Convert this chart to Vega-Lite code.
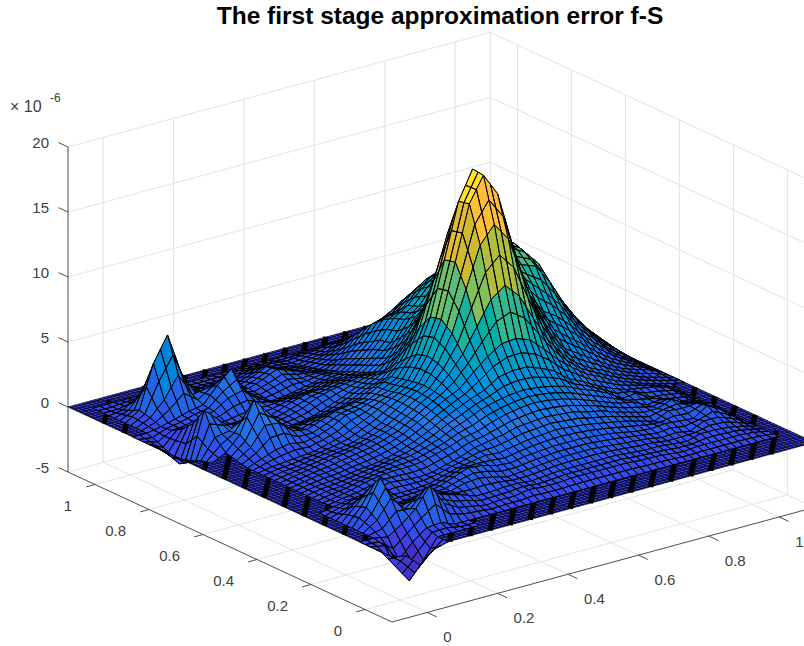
{"$schema":"https://vega.github.io/schema/vega-lite/v6.json","width":804,"height":646,"padding":0,"autosize":"none","background":"white","config":{"view":{"stroke":null}},
"title":{"text":"The first stage approximation error f-S","anchor":"middle","dx":38,"offset":-29,"font":"Liberation Sans","fontSize":24.5,"fontWeight":"bold","color":"#000000"},
"datasets":{
"walls":[
{"u1":-0.1,"v1":1.1,"z1":-5,"u2":1.1,"v2":1.1,"z2":-5},{"u1":-0.1,"v1":1.1,"z1":0,"u2":1.1,"v2":1.1,"z2":0},{"u1":-0.1,"v1":1.1,"z1":5,"u2":1.1,"v2":1.1,"z2":5},{"u1":-0.1,"v1":1.1,"z1":10,"u2":1.1,"v2":1.1,"z2":10},{"u1":-0.1,"v1":1.1,"z1":15,"u2":1.1,"v2":1.1,"z2":15},{"u1":-0.1,"v1":1.1,"z1":20,"u2":1.1,"v2":1.1,"z2":20},
{"u1":1.1,"v1":-0.1,"z1":-5,"u2":1.1,"v2":1.1,"z2":-5},{"u1":1.1,"v1":-0.1,"z1":0,"u2":1.1,"v2":1.1,"z2":0},{"u1":1.1,"v1":-0.1,"z1":5,"u2":1.1,"v2":1.1,"z2":5},{"u1":1.1,"v1":-0.1,"z1":10,"u2":1.1,"v2":1.1,"z2":10},{"u1":1.1,"v1":-0.1,"z1":15,"u2":1.1,"v2":1.1,"z2":15},{"u1":1.1,"v1":-0.1,"z1":20,"u2":1.1,"v2":1.1,"z2":20},
{"u1":0,"v1":1.1,"z1":-5,"u2":0,"v2":1.1,"z2":20},{"u1":0.2,"v1":1.1,"z1":-5,"u2":0.2,"v2":1.1,"z2":20},{"u1":0.4,"v1":1.1,"z1":-5,"u2":0.4,"v2":1.1,"z2":20},{"u1":0.6,"v1":1.1,"z1":-5,"u2":0.6,"v2":1.1,"z2":20},{"u1":0.8,"v1":1.1,"z1":-5,"u2":0.8,"v2":1.1,"z2":20},{"u1":1,"v1":1.1,"z1":-5,"u2":1,"v2":1.1,"z2":20},{"u1":1.1,"v1":1.1,"z1":-5,"u2":1.1,"v2":1.1,"z2":20},
{"u1":1.1,"v1":0,"z1":-5,"u2":1.1,"v2":0,"z2":20},{"u1":1.1,"v1":0.2,"z1":-5,"u2":1.1,"v2":0.2,"z2":20},{"u1":1.1,"v1":0.4,"z1":-5,"u2":1.1,"v2":0.4,"z2":20},{"u1":1.1,"v1":0.6,"z1":-5,"u2":1.1,"v2":0.6,"z2":20},{"u1":1.1,"v1":0.8,"z1":-5,"u2":1.1,"v2":0.8,"z2":20},{"u1":1.1,"v1":1,"z1":-5,"u2":1.1,"v2":1,"z2":20},
{"u1":0,"v1":-0.1,"z1":-5,"u2":0,"v2":1.1,"z2":-5},{"u1":0.2,"v1":-0.1,"z1":-5,"u2":0.2,"v2":1.1,"z2":-5},{"u1":0.4,"v1":-0.1,"z1":-5,"u2":0.4,"v2":1.1,"z2":-5},{"u1":0.6,"v1":-0.1,"z1":-5,"u2":0.6,"v2":1.1,"z2":-5},{"u1":0.8,"v1":-0.1,"z1":-5,"u2":0.8,"v2":1.1,"z2":-5},{"u1":1,"v1":-0.1,"z1":-5,"u2":1,"v2":1.1,"z2":-5},
{"u1":-0.1,"v1":0,"z1":-5,"u2":1.1,"v2":0,"z2":-5},{"u1":-0.1,"v1":0.2,"z1":-5,"u2":1.1,"v2":0.2,"z2":-5},{"u1":-0.1,"v1":0.4,"z1":-5,"u2":1.1,"v2":0.4,"z2":-5},{"u1":-0.1,"v1":0.6,"z1":-5,"u2":1.1,"v2":0.6,"z2":-5},{"u1":-0.1,"v1":0.8,"z1":-5,"u2":1.1,"v2":0.8,"z2":-5},{"u1":-0.1,"v1":1,"z1":-5,"u2":1.1,"v2":1,"z2":-5}],
"axes":[
{"u1":-0.1,"v1":1.1,"z1":-5,"u2":-0.1,"v2":1.1,"z2":20},{"u1":-0.1,"v1":-0.1,"z1":-5,"u2":-0.1,"v2":1.1,"z2":-5},{"u1":-0.1,"v1":-0.1,"z1":-5,"u2":1.1,"v2":-0.1,"z2":-5},
{"u1":-0.1,"v1":1.1,"z1":-5,"u2":-0.1,"v2":1.135,"z2":-5},{"u1":-0.1,"v1":1.1,"z1":0,"u2":-0.1,"v2":1.135,"z2":0},{"u1":-0.1,"v1":1.1,"z1":5,"u2":-0.1,"v2":1.135,"z2":5},{"u1":-0.1,"v1":1.1,"z1":10,"u2":-0.1,"v2":1.135,"z2":10},{"u1":-0.1,"v1":1.1,"z1":15,"u2":-0.1,"v2":1.135,"z2":15},{"u1":-0.1,"v1":1.1,"z1":20,"u2":-0.1,"v2":1.135,"z2":20},
{"u1":-0.1,"v1":0,"z1":-5,"u2":-0.125,"v2":0,"z2":-5},{"u1":-0.1,"v1":0.2,"z1":-5,"u2":-0.125,"v2":0.2,"z2":-5},{"u1":-0.1,"v1":0.4,"z1":-5,"u2":-0.125,"v2":0.4,"z2":-5},{"u1":-0.1,"v1":0.6,"z1":-5,"u2":-0.125,"v2":0.6,"z2":-5},{"u1":-0.1,"v1":0.8,"z1":-5,"u2":-0.125,"v2":0.8,"z2":-5},{"u1":-0.1,"v1":1,"z1":-5,"u2":-0.125,"v2":1,"z2":-5},
{"u1":0,"v1":-0.1,"z1":-5,"u2":0,"v2":-0.135,"z2":-5},{"u1":0.2,"v1":-0.1,"z1":-5,"u2":0.2,"v2":-0.135,"z2":-5},{"u1":0.4,"v1":-0.1,"z1":-5,"u2":0.4,"v2":-0.135,"z2":-5},{"u1":0.6,"v1":-0.1,"z1":-5,"u2":0.6,"v2":-0.135,"z2":-5},{"u1":0.8,"v1":-0.1,"z1":-5,"u2":0.8,"v2":-0.135,"z2":-5},{"u1":1,"v1":-0.1,"z1":-5,"u2":1,"v2":-0.135,"z2":-5}],
"zlabels":[{"z":20,"t":"20"},{"z":15,"t":"15"},{"z":10,"t":"10"},{"z":5,"t":"5"},{"z":0,"t":"0"},{"z":-5,"t":"-5"}],
"vlabels":[{"v":1,"t":"1"},{"v":0.8,"t":"0.8"},{"v":0.6,"t":"0.6"},{"v":0.4,"t":"0.4"},{"v":0.2,"t":"0.2"},{"v":0,"t":"0"}],
"ulabels":[{"u":0,"t":"0"},{"u":0.2,"t":"0.2"},{"u":0.4,"t":"0.4"},{"u":0.6,"t":"0.6"},{"u":0.8,"t":"0.8"},{"u":1,"t":"1"}],
"plane":[{"u":-0.1,"v":-0.1,"n":0},{"u":1.1,"v":-0.1,"n":1},{"u":1.1,"v":1.1,"n":2},{"u":-0.1,"v":1.1,"n":3},{"u":-0.1,"v":-0.1,"n":4}],
"mesh":[{"d":-0.096},{"d":-0.084},{"d":-0.072},{"d":-0.06},{"d":-0.048},{"d":-0.036},{"d":-0.024},{"d":-0.012},{"d":0},{"d":0.012},{"d":0.024},{"d":0.036},{"d":0.048},{"d":0.06},{"d":0.072},{"d":0.084},{"d":0.096},{"d":0.108},{"d":0.12},{"d":0.132},{"d":0.144},{"d":0.156},{"d":0.168},{"d":0.18},{"d":0.192},{"d":0.204},{"d":0.216},{"d":0.228},{"d":0.24},{"d":0.252},{"d":0.264},{"d":0.276},{"d":0.288},{"d":0.3},{"d":0.312},{"d":0.324},{"d":0.336},{"d":0.348},{"d":0.36},{"d":0.372},{"d":0.384},{"d":0.396},{"d":0.408},{"d":0.42},{"d":0.432},{"d":0.444},{"d":0.456},{"d":0.468},{"d":0.48},{"d":0.492},{"d":0.504},{"d":0.516},{"d":0.528},{"d":0.54},{"d":0.552},{"d":0.564},{"d":0.576},{"d":0.588},{"d":0.6},{"d":0.612},{"d":0.624},{"d":0.636},{"d":0.648},{"d":0.66},{"d":0.672},{"d":0.684},{"d":0.696},{"d":0.708},{"d":0.72},{"d":0.732},{"d":0.744},{"d":0.756},{"d":0.768},{"d":0.78},{"d":0.792},{"d":0.804},{"d":0.816},{"d":0.828},{"d":0.84},{"d":0.852},{"d":0.864},{"d":0.876},{"d":0.888},{"d":0.9},{"d":0.912},{"d":0.924},{"d":0.936},{"d":0.948},{"d":0.96},{"d":0.972},{"d":0.984},{"d":0.996},{"d":1.008},{"d":1.02},{"d":1.032},{"d":1.044},{"d":1.056},{"d":1.068},{"d":1.08},{"d":1.092}],
"stripes":[{"s":0,"t":-0.07},{"s":0,"t":0.004},{"s":0,"t":0.078},{"s":0,"t":0.152},{"s":0,"t":0.226},{"s":0,"t":0.3},{"s":0,"t":0.374},{"s":0,"t":0.448},{"s":0,"t":0.522},{"s":0,"t":0.596},{"s":0,"t":0.67},{"s":0,"t":0.744},{"s":0,"t":0.818},{"s":0,"t":0.892},{"s":0,"t":0.966},
{"s":1,"t":0.12},{"s":1,"t":0.194},{"s":1,"t":0.268},{"s":1,"t":0.342},{"s":1,"t":0.416},{"s":1,"t":0.49},{"s":1,"t":0.564},{"s":1,"t":0.638},{"s":1,"t":0.712},{"s":1,"t":0.786},{"s":1,"t":0.86},{"s":1,"t":0.934},{"s":1,"t":1.008},{"s":1,"t":1.08},
{"s":2,"t":-0.05},{"s":2,"t":0.007},{"s":2,"t":0.064},{"s":2,"t":0.121},{"s":2,"t":0.178},{"s":2,"t":0.235},{"s":2,"t":0.292},{"s":2,"t":0.349},{"s":2,"t":0.406},{"s":2,"t":0.463},{"s":2,"t":0.52},{"s":2,"t":0.577},{"s":2,"t":0.634},{"s":2,"t":0.691},{"s":2,"t":0.748},{"s":2,"t":0.805},{"s":2,"t":0.862},{"s":2,"t":0.919},{"s":2,"t":0.976},
{"s":3,"t":0.12},{"s":3,"t":0.177},{"s":3,"t":0.234},{"s":3,"t":0.291},{"s":3,"t":0.348},{"s":3,"t":0.405},{"s":3,"t":0.462},{"s":3,"t":0.519},{"s":3,"t":0.576},{"s":3,"t":0.633},{"s":3,"t":0.69},{"s":3,"t":0.747},{"s":3,"t":0.804},{"s":3,"t":0.861},{"s":3,"t":0.918},{"s":3,"t":0.975},{"s":3,"t":1.032}],
"grid":[
{"k":2926,"z":0.2},{"k":2925,"z":0.3},{"k":2924,"z":0.5},{"k":2923,"z":0.8},{"k":2922,"z":1.0},{"k":2921,"z":1.2},{"k":2920,"z":1.3},{"k":2919,"z":1.3},{"k":2918,"z":1.1},{"k":2917,"z":0.9},{"k":2916,"z":0.6},{"k":2915,"z":0.5},{"k":2914,"z":0.5},{"k":2913,"z":0.3},{"k":2912,"z":0.2},
{"k":2828,"z":0.1},{"k":2827,"z":0.2},{"k":2826,"z":0.3},{"k":2825,"z":0.6},{"k":2824,"z":1.0},{"k":2823,"z":1.4},{"k":2822,"z":1.9},{"k":2821,"z":2.3},{"k":2820,"z":2.4},{"k":2819,"z":2.4},{"k":2818,"z":2.1},{"k":2817,"z":1.7},{"k":2816,"z":1.3},{"k":2815,"z":1.0},{"k":2814,"z":0.8},{"k":2813,"z":0.6},{"k":2812,"z":0.5},{"k":2811,"z":0.6},{"k":2810,"z":0.5},{"k":2809,"z":0.4},{"k":2808,"z":0.6},{"k":2807,"z":0.9},{"k":2806,"z":0.8},{"k":2805,"z":0.5},{"k":2804,"z":0.3},{"k":2803,"z":0.2},{"k":2802,"z":0},
{"k":2728,"z":0.2},{"k":2727,"z":0.3},{"k":2726,"z":0.6},{"k":2725,"z":1.1},{"k":2724,"z":1.7},{"k":2723,"z":2.5},{"k":2722,"z":3.2},{"k":2721,"z":3.8},{"k":2720,"z":4.0},{"k":2719,"z":3.9},{"k":2718,"z":3.4},{"k":2717,"z":2.8},{"k":2716,"z":2.2},{"k":2715,"z":1.6},{"k":2714,"z":1.2},{"k":2713,"z":1.0},{"k":2712,"z":0.8},{"k":2711,"z":0.9},{"k":2710,"z":0.7},{"k":2709,"z":0.5},{"k":2708,"z":0.8},{"k":2707,"z":1.2},{"k":2706,"z":1.4},{"k":2705,"z":0.9},{"k":2704,"z":0.5},{"k":2703,"z":0.3},{"k":2702,"z":0},
{"k":2628,"z":0.2},{"k":2627,"z":0.5},{"k":2626,"z":1.0},{"k":2625,"z":1.7},{"k":2624,"z":2.7},{"k":2623,"z":3.7},{"k":2622,"z":4.8},{"k":2621,"z":5.7},{"k":2620,"z":5.9},{"k":2619,"z":5.7},{"k":2618,"z":5.0},{"k":2617,"z":4.0},{"k":2616,"z":3.1},{"k":2615,"z":2.4},{"k":2614,"z":1.8},{"k":2613,"z":1.4},{"k":2612,"z":1.2},{"k":2611,"z":1.1},{"k":2610,"z":0.8},{"k":2609,"z":1.0},{"k":2608,"z":1.4},{"k":2607,"z":1.1},{"k":2606,"z":0.7},{"k":2605,"z":0.9},{"k":2604,"z":0.6},{"k":2603,"z":0.3},{"k":2602,"z":0},
{"k":2528,"z":0.4},{"k":2527,"z":0.8},{"k":2526,"z":1.5},{"k":2525,"z":2.5},{"k":2524,"z":3.9},{"k":2523,"z":5.4},{"k":2522,"z":6.8},{"k":2521,"z":7.9},{"k":2520,"z":8.2},{"k":2519,"z":7.9},{"k":2518,"z":6.9},{"k":2517,"z":5.5},{"k":2516,"z":4.3},{"k":2515,"z":3.3},{"k":2514,"z":2.5},{"k":2513,"z":2.0},{"k":2512,"z":1.6},{"k":2511,"z":1.3},{"k":2510,"z":1.4},{"k":2509,"z":0.9},{"k":2508,"z":1.0},{"k":2507,"z":1.2},{"k":2506,"z":0.8},{"k":2505,"z":0.4},{"k":2504,"z":0.6},{"k":2503,"z":0.3},{"k":2502,"z":0},
{"k":2428,"z":0.6},{"k":2427,"z":1.1},{"k":2426,"z":2.1},{"k":2425,"z":3.4},{"k":2424,"z":4.8},{"k":2423,"z":6.4},{"k":2422,"z":8.0},{"k":2421,"z":9.0},{"k":2420,"z":9.4},{"k":2419,"z":9.1},{"k":2418,"z":8.4},{"k":2417,"z":6.7},{"k":2416,"z":5.3},{"k":2415,"z":4.1},{"k":2414,"z":3.2},{"k":2413,"z":2.5},{"k":2412,"z":2.2},{"k":2411,"z":1.7},{"k":2410,"z":1.3},{"k":2409,"z":1.4},{"k":2408,"z":1.0},{"k":2407,"z":0.7},{"k":2406,"z":0.9},{"k":2405,"z":0.6},{"k":2404,"z":0.3},{"k":2403,"z":0.3},{"k":2402,"z":0},
{"k":2328,"z":0.8},{"k":2327,"z":1.5},{"k":2326,"z":2.7},{"k":2325,"z":3.6},{"k":2324,"z":5.4},{"k":2323,"z":6.8},{"k":2322,"z":8.6},{"k":2321,"z":9.9},{"k":2320,"z":10.0},{"k":2319,"z":9.7},{"k":2318,"z":8.8},{"k":2317,"z":7.7},{"k":2316,"z":6.0},{"k":2315,"z":5.0},{"k":2314,"z":3.9},{"k":2313,"z":3.2},{"k":2312,"z":2.7},{"k":2311,"z":2.2},{"k":2310,"z":2.0},{"k":2309,"z":1.6},{"k":2308,"z":1.3},{"k":2307,"z":1.0},{"k":2306,"z":0.8},{"k":2305,"z":0.5},{"k":2304,"z":0.4},{"k":2303,"z":0.2},{"k":2302,"z":0},
{"k":2228,"z":1.0},{"k":2227,"z":1.7},{"k":2226,"z":2.6},{"k":2225,"z":4.0},{"k":2224,"z":5.6},{"k":2223,"z":7.2},{"k":2222,"z":8.4},{"k":2221,"z":9.4},{"k":2220,"z":10.2},{"k":2219,"z":10.0},{"k":2218,"z":9.4},{"k":2217,"z":8.8},{"k":2216,"z":7.6},{"k":2215,"z":6.5},{"k":2214,"z":5.3},{"k":2213,"z":4.2},{"k":2212,"z":3.5},{"k":2211,"z":2.8},{"k":2210,"z":2.5},{"k":2209,"z":2.0},{"k":2208,"z":1.6},{"k":2207,"z":1.3},{"k":2206,"z":0.9},{"k":2205,"z":0.7},{"k":2204,"z":0.5},{"k":2203,"z":0.3},{"k":2202,"z":0},
{"k":2128,"z":0.9},{"k":2127,"z":1.6},{"k":2126,"z":2.8},{"k":2125,"z":4.2},{"k":2124,"z":5.6},{"k":2123,"z":7.0},{"k":2122,"z":8.0},{"k":2121,"z":9.0},{"k":2120,"z":9.4},{"k":2119,"z":10.2},{"k":2118,"z":10.2},{"k":2117,"z":10.2},{"k":2116,"z":9.7},{"k":2115,"z":8.8},{"k":2114,"z":7.3},{"k":2113,"z":5.6},{"k":2112,"z":4.4},{"k":2111,"z":3.3},{"k":2110,"z":2.9},{"k":2109,"z":2.4},{"k":2108,"z":2.0},{"k":2107,"z":1.5},{"k":2106,"z":1.1},{"k":2105,"z":0.8},{"k":2104,"z":0.5},{"k":2103,"z":0.4},{"k":2102,"z":0},
{"k":2028,"z":0.9},{"k":2027,"z":1.6},{"k":2026,"z":2.8},{"k":2025,"z":4.0},{"k":2024,"z":5.4},{"k":2023,"z":6.6},{"k":2022,"z":7.4},{"k":2021,"z":8.0},{"k":2020,"z":8.6},{"k":2019,"z":9.8},{"k":2018,"z":11.1},{"k":2017,"z":12.4},{"k":2016,"z":13.3},{"k":2015,"z":12.6},{"k":2014,"z":10.3},{"k":2013,"z":7.5},{"k":2012,"z":5.5},{"k":2011,"z":4.2},{"k":2010,"z":3.4},{"k":2009,"z":2.8},{"k":2008,"z":2.2},{"k":2007,"z":1.7},{"k":2006,"z":1.3},{"k":2005,"z":0.9},{"k":2004,"z":0.6},{"k":2003,"z":0.4},{"k":2002,"z":0},
{"k":1928,"z":0.8},{"k":1927,"z":1.5},{"k":1926,"z":2.6},{"k":1925,"z":3.6},{"k":1924,"z":4.8},{"k":1923,"z":5.8},{"k":1922,"z":6.6},{"k":1921,"z":7.2},{"k":1920,"z":8.0},{"k":1919,"z":9.2},{"k":1918,"z":11.7},{"k":1917,"z":14.6},{"k":1916,"z":17.0},{"k":1915,"z":16.6},{"k":1914,"z":13.5},{"k":1913,"z":9.5},{"k":1912,"z":6.5},{"k":1911,"z":4.7},{"k":1910,"z":3.7},{"k":1909,"z":3.1},{"k":1908,"z":2.5},{"k":1907,"z":1.9},{"k":1906,"z":1.4},{"k":1905,"z":1.0},{"k":1904,"z":0.7},{"k":1903,"z":0.5},{"k":1902,"z":0},
{"k":1828,"z":0.7},{"k":1827,"z":1.3},{"k":1826,"z":2.2},{"k":1825,"z":3.0},{"k":1824,"z":4.0},{"k":1823,"z":4.8},{"k":1822,"z":5.6},{"k":1821,"z":5.9},{"k":1820,"z":6.6},{"k":1819,"z":8.0},{"k":1818,"z":11.4},{"k":1817,"z":15.3},{"k":1816,"z":18.4},{"k":1815,"z":18.3},{"k":1814,"z":14.9},{"k":1813,"z":10.6},{"k":1812,"z":6.9},{"k":1811,"z":5.1},{"k":1810,"z":3.9},{"k":1809,"z":3.3},{"k":1808,"z":2.6},{"k":1807,"z":2.0},{"k":1806,"z":1.5},{"k":1805,"z":1.1},{"k":1804,"z":0.7},{"k":1803,"z":0.5},{"k":1802,"z":0},
{"k":1728,"z":0.6},{"k":1727,"z":1.1},{"k":1726,"z":1.9},{"k":1725,"z":2.8},{"k":1724,"z":3.7},{"k":1723,"z":4.4},{"k":1722,"z":4.9},{"k":1721,"z":5.2},{"k":1720,"z":5.8},{"k":1719,"z":7.0},{"k":1718,"z":9.7},{"k":1717,"z":13.4},{"k":1716,"z":16.2},{"k":1715,"z":16.4},{"k":1714,"z":13.6},{"k":1713,"z":9.8},{"k":1712,"z":6.8},{"k":1711,"z":5.1},{"k":1710,"z":4.0},{"k":1709,"z":3.4},{"k":1708,"z":2.7},{"k":1707,"z":2.1},{"k":1706,"z":1.5},{"k":1705,"z":1.1},{"k":1704,"z":0.7},{"k":1703,"z":0.5},{"k":1702,"z":0},
{"k":1628,"z":0.4},{"k":1627,"z":0.7},{"k":1626,"z":1.2},{"k":1625,"z":1.8},{"k":1624,"z":2.5},{"k":1623,"z":3.0},{"k":1622,"z":3.5},{"k":1621,"z":3.7},{"k":1620,"z":4.5},{"k":1619,"z":5.4},{"k":1618,"z":7.4},{"k":1617,"z":10.0},{"k":1616,"z":12.0},{"k":1615,"z":12.2},{"k":1614,"z":10.5},{"k":1613,"z":8.0},{"k":1612,"z":6.1},{"k":1611,"z":4.9},{"k":1610,"z":3.9},{"k":1609,"z":3.3},{"k":1608,"z":2.6},{"k":1607,"z":2.0},{"k":1606,"z":1.5},{"k":1605,"z":1.1},{"k":1604,"z":0.7},{"k":1603,"z":0.5},{"k":1602,"z":0},
{"k":1528,"z":0.3},{"k":1527,"z":0.5},{"k":1526,"z":0.8},{"k":1525,"z":1.1},{"k":1524,"z":1.6},{"k":1523,"z":2.0},{"k":1522,"z":2.4},{"k":1521,"z":2.8},{"k":1520,"z":3.2},{"k":1519,"z":4.1},{"k":1518,"z":5.2},{"k":1517,"z":6.7},{"k":1516,"z":7.9},{"k":1515,"z":8.1},{"k":1514,"z":7.4},{"k":1513,"z":6.2},{"k":1512,"z":5.2},{"k":1511,"z":4.2},{"k":1510,"z":3.7},{"k":1509,"z":3.1},{"k":1508,"z":2.5},{"k":1507,"z":1.9},{"k":1506,"z":1.4},{"k":1505,"z":1.0},{"k":1504,"z":0.7},{"k":1503,"z":0.5},{"k":1502,"z":0},
{"k":1428,"z":0.2},{"k":1427,"z":0.3},{"k":1426,"z":0.5},{"k":1425,"z":0.7},{"k":1424,"z":1.0},{"k":1423,"z":1.3},{"k":1422,"z":1.7},{"k":1421,"z":2.0},{"k":1420,"z":2.4},{"k":1419,"z":2.9},{"k":1418,"z":3.8},{"k":1417,"z":4.6},{"k":1416,"z":5.3},{"k":1415,"z":5.6},{"k":1414,"z":5.4},{"k":1413,"z":4.9},{"k":1412,"z":4.2},{"k":1411,"z":3.8},{"k":1410,"z":3.4},{"k":1409,"z":2.8},{"k":1408,"z":2.2},{"k":1407,"z":1.7},{"k":1406,"z":1.3},{"k":1405,"z":0.9},{"k":1404,"z":0.6},{"k":1403,"z":0.4},{"k":1402,"z":0},
{"k":1328,"z":0.3},{"k":1327,"z":0.4},{"k":1326,"z":0.6},{"k":1325,"z":0.8},{"k":1324,"z":1.1},{"k":1323,"z":1.3},{"k":1322,"z":1.5},{"k":1321,"z":1.9},{"k":1320,"z":2.3},{"k":1319,"z":2.6},{"k":1318,"z":2.9},{"k":1317,"z":3.5},{"k":1316,"z":3.7},{"k":1315,"z":3.9},{"k":1314,"z":4.0},{"k":1313,"z":3.9},{"k":1312,"z":3.7},{"k":1311,"z":3.3},{"k":1310,"z":2.9},{"k":1309,"z":2.4},{"k":1308,"z":2.0},{"k":1307,"z":1.5},{"k":1306,"z":1.1},{"k":1305,"z":0.8},{"k":1304,"z":0.5},{"k":1303,"z":0.4},{"k":1302,"z":0},
{"k":1228,"z":0.3},{"k":1227,"z":0.6},{"k":1226,"z":1.0},{"k":1225,"z":1.2},{"k":1224,"z":1.0},{"k":1223,"z":1.0},{"k":1222,"z":1.4},{"k":1221,"z":1.8},{"k":1220,"z":2.1},{"k":1219,"z":2.2},{"k":1218,"z":2.5},{"k":1217,"z":3.0},{"k":1216,"z":3.1},{"k":1215,"z":3.3},{"k":1214,"z":3.4},{"k":1213,"z":3.3},{"k":1212,"z":3.1},{"k":1211,"z":2.8},{"k":1210,"z":2.5},{"k":1209,"z":2.2},{"k":1208,"z":1.8},{"k":1207,"z":1.6},{"k":1206,"z":1.2},{"k":1205,"z":0.7},{"k":1204,"z":0.6},{"k":1203,"z":0.5},{"k":1202,"z":0},
{"k":1128,"z":0.3},{"k":1127,"z":0.8},{"k":1126,"z":1.4},{"k":1125,"z":1.6},{"k":1124,"z":1.2},{"k":1123,"z":0.8},{"k":1122,"z":1.1},{"k":1121,"z":1.6},{"k":1120,"z":1.9},{"k":1119,"z":1.7},{"k":1118,"z":2.0},{"k":1117,"z":2.4},{"k":1116,"z":2.7},{"k":1115,"z":2.8},{"k":1114,"z":2.7},{"k":1113,"z":2.6},{"k":1112,"z":2.5},{"k":1111,"z":2.2},{"k":1110,"z":2.0},{"k":1109,"z":1.8},{"k":1108,"z":1.4},{"k":1107,"z":1.4},{"k":1106,"z":1.5},{"k":1105,"z":1.0},{"k":1104,"z":0.6},{"k":1103,"z":0.3},{"k":1102,"z":0},
{"k":1028,"z":0.2},{"k":1027,"z":0.5},{"k":1026,"z":0.9},{"k":1025,"z":1.1},{"k":1024,"z":0.9},{"k":1023,"z":0.6},{"k":1022,"z":1.0},{"k":1021,"z":1.5},{"k":1020,"z":1.6},{"k":1019,"z":1.3},{"k":1018,"z":1.6},{"k":1017,"z":2.2},{"k":1016,"z":2.3},{"k":1015,"z":2.2},{"k":1014,"z":2.0},{"k":1013,"z":2.0},{"k":1012,"z":1.9},{"k":1011,"z":1.7},{"k":1010,"z":1.6},{"k":1009,"z":1.5},{"k":1008,"z":1.1},{"k":1007,"z":1.2},{"k":1006,"z":1.6},{"k":1005,"z":1.2},{"k":1004,"z":0.5},{"k":1003,"z":0.3},{"k":1002,"z":0},
{"k":928,"z":0.1},{"k":927,"z":0.3},{"k":926,"z":0.5},{"k":925,"z":0.7},{"k":924,"z":0.6},{"k":923,"z":0.5},{"k":922,"z":0.9},{"k":921,"z":1.2},{"k":920,"z":1.1},{"k":919,"z":0.9},{"k":918,"z":1.4},{"k":917,"z":2.0},{"k":916,"z":2.1},{"k":915,"z":1.7},{"k":914,"z":1.5},{"k":913,"z":1.6},{"k":912,"z":1.5},{"k":911,"z":1.3},{"k":910,"z":1.3},{"k":909,"z":1.2},{"k":908,"z":0.8},{"k":907,"z":0.9},{"k":906,"z":1.2},{"k":905,"z":1.1},{"k":904,"z":0.5},{"k":903,"z":0.2},{"k":902,"z":0},
{"k":828,"z":0.1},{"k":827,"z":0.4},{"k":826,"z":0.7},{"k":825,"z":0.9},{"k":824,"z":1.0},{"k":823,"z":1.0},{"k":822,"z":0.8},{"k":821,"z":0.8},{"k":820,"z":0.8},{"k":819,"z":0.7},{"k":818,"z":1.2},{"k":817,"z":1.6},{"k":816,"z":1.5},{"k":815,"z":1.2},{"k":814,"z":1.1},{"k":813,"z":1.3},{"k":812,"z":1.2},{"k":811,"z":1.0},{"k":810,"z":1.2},{"k":809,"z":1.1},{"k":808,"z":0.7},{"k":807,"z":0.6},{"k":806,"z":0.8},{"k":805,"z":0.8},{"k":804,"z":0.9},{"k":803,"z":0.4},{"k":802,"z":0},
{"k":728,"z":0.1},{"k":727,"z":0.3},{"k":726,"z":0.8},{"k":725,"z":1.9},{"k":724,"z":3.2},{"k":723,"z":1.9},{"k":722,"z":0.8},{"k":721,"z":0.5},{"k":720,"z":0.6},{"k":719,"z":0.6},{"k":718,"z":1.0},{"k":717,"z":1.2},{"k":716,"z":1.1},{"k":715,"z":0.9},{"k":714,"z":0.9},{"k":713,"z":1.1},{"k":712,"z":1.0},{"k":711,"z":0.8},{"k":710,"z":1.0},{"k":709,"z":1.1},{"k":708,"z":0.8},{"k":707,"z":0.5},{"k":706,"z":0.6},{"k":705,"z":0.9},{"k":704,"z":1.2},{"k":703,"z":0.6},{"k":702,"z":0},
{"k":628,"z":0.1},{"k":627,"z":0.3},{"k":626,"z":0.8},{"k":625,"z":1.6},{"k":624,"z":2.2},{"k":623,"z":1.6},{"k":622,"z":0.7},{"k":621,"z":0.4},{"k":620,"z":0.5},{"k":619,"z":0.9},{"k":618,"z":1.5},{"k":617,"z":1.4},{"k":616,"z":0.9},{"k":615,"z":0.6},{"k":614,"z":0.8},{"k":613,"z":0.9},{"k":612,"z":0.8},{"k":611,"z":0.7},{"k":610,"z":0.8},{"k":609,"z":1.0},{"k":608,"z":0.9},{"k":607,"z":0.5},{"k":606,"z":0.5},{"k":605,"z":1.0},{"k":604,"z":1.6},{"k":603,"z":1.2},{"k":602,"z":0},{"k":601,"z":0},
{"k":528,"z":0.2},{"k":527,"z":0.5},{"k":526,"z":2.6},{"k":525,"z":1.4},{"k":524,"z":1.0},{"k":523,"z":0.9},{"k":522,"z":0.5},{"k":521,"z":0.5},{"k":520,"z":0.8},{"k":519,"z":1.6},{"k":518,"z":2.7},{"k":517,"z":2.3},{"k":516,"z":1.1},{"k":515,"z":0.5},{"k":514,"z":0.6},{"k":513,"z":0.7},{"k":512,"z":0.6},{"k":511,"z":0.5},{"k":510,"z":0.6},{"k":509,"z":0.8},{"k":508,"z":0.7},{"k":507,"z":0.5},{"k":506,"z":0.4},{"k":505,"z":0.8},{"k":504,"z":1.8},{"k":503,"z":2.9},{"k":502,"z":0.4},{"k":501,"z":0},
{"k":428,"z":0.3},{"k":427,"z":3.0},{"k":426,"z":5.9},{"k":425,"z":3.2},{"k":424,"z":0.8},{"k":423,"z":0.7},{"k":422,"z":0.5},{"k":421,"z":0.5},{"k":420,"z":1.0},{"k":419,"z":2.2},{"k":418,"z":4.0},{"k":417,"z":2.4},{"k":416,"z":0.9},{"k":415,"z":0.4},{"k":414,"z":0.4},{"k":413,"z":0.5},{"k":412,"z":0.5},{"k":411,"z":0.4},{"k":410,"z":0.4},{"k":409,"z":0.5},{"k":408,"z":0.5},{"k":407,"z":0.5},{"k":406,"z":0.7},{"k":405,"z":0.9},{"k":404,"z":1.0},{"k":403,"z":1.4},{"k":402,"z":0.3},{"k":401,"z":0},
{"k":328,"z":0.2},{"k":327,"z":1.5},{"k":326,"z":4.0},{"k":325,"z":1.6},{"k":324,"z":0.5},{"k":323,"z":0.4},{"k":322,"z":0.6},{"k":321,"z":1.1},{"k":320,"z":2.0},{"k":319,"z":1.5},{"k":318,"z":1.6},{"k":317,"z":1.0},{"k":316,"z":0.5},{"k":315,"z":0.3},{"k":314,"z":0.3},{"k":313,"z":0.3},{"k":312,"z":0.3},{"k":311,"z":0.3},{"k":310,"z":0.3},{"k":309,"z":0.3},{"k":308,"z":0.4},{"k":307,"z":0.9},{"k":306,"z":2.1},{"k":305,"z":3.3},{"k":304,"z":2.1},{"k":303,"z":0.5},{"k":302,"z":-0.5},{"k":301,"z":-1.5},{"k":300,"z":-0.3},
{"k":228,"z":0},{"k":227,"z":0.3},{"k":226,"z":0.7},{"k":225,"z":0.5},{"k":224,"z":0.2},{"k":223,"z":0.3},{"k":222,"z":0.8},{"k":221,"z":1.6},{"k":220,"z":3.0},{"k":219,"z":1.3},{"k":218,"z":0.5},{"k":217,"z":0.3},{"k":216,"z":0.1},{"k":215,"z":0.1},{"k":214,"z":0.1},{"k":213,"z":0.1},{"k":212,"z":0.1},{"k":211,"z":0.1},{"k":210,"z":0.1},{"k":209,"z":0.1},{"k":208,"z":0.2},{"k":207,"z":0.4},{"k":206,"z":1.0},{"k":205,"z":1.3},{"k":204,"z":0.7},{"k":203,"z":-0.2},{"k":202,"z":-1.6},{"k":201,"z":-2.8},{"k":200,"z":-1.2},
{"k":128,"z":0},{"k":127,"z":0},{"k":126,"z":0},{"k":125,"z":0},{"k":124,"z":0},{"k":123,"z":-0.3},{"k":122,"z":-0.7},{"k":121,"z":-1.2},{"k":120,"z":-0.7},{"k":119,"z":-0.2},{"k":118,"z":0},{"k":107,"z":0},{"k":106,"z":0},{"k":105,"z":0},{"k":104,"z":0},{"k":103,"z":0},{"k":102,"z":-0.2},{"k":101,"z":-1.4},{"k":100,"z":-0.2},
{"k":23,"z":0},{"k":22,"z":0},{"k":21,"z":0},{"k":20,"z":0},{"k":19,"z":0},{"k":2,"z":0},{"k":1,"z":0},{"k":0,"z":0}
]},
"layer":[
{"data":{"name":"walls"},"transform":[{"calculate":"392+352*(datum.u1+0.1)-270*(datum.v1+0.1)","as":"x1"},{"calculate":"557-95.5*(datum.u1+0.1)-125*(datum.v1+0.1)-13*datum.z1","as":"y1"},{"calculate":"392+352*(datum.u2+0.1)-270*(datum.v2+0.1)","as":"x2"},{"calculate":"557-95.5*(datum.u2+0.1)-125*(datum.v2+0.1)-13*datum.z2","as":"y2"}],
"mark":{"type":"rule","stroke":"#e3e3e3","strokeWidth":1},
"encoding":{"x":{"field":"x1","type":"quantitative","scale":{"domain":[0,804],"nice":false,"zero":false},"axis":null},"y":{"field":"y1","type":"quantitative","scale":{"domain":[646,0],"nice":false,"zero":false},"axis":null},"x2":{"field":"x2"},"y2":{"field":"y2"}}},
{"data":{"name":"axes"},"transform":[{"calculate":"392+352*(datum.u1+0.1)-270*(datum.v1+0.1)","as":"x1"},{"calculate":"557-95.5*(datum.u1+0.1)-125*(datum.v1+0.1)-13*datum.z1","as":"y1"},{"calculate":"392+352*(datum.u2+0.1)-270*(datum.v2+0.1)","as":"x2"},{"calculate":"557-95.5*(datum.u2+0.1)-125*(datum.v2+0.1)-13*datum.z2","as":"y2"}],
"mark":{"type":"rule","stroke":"#3a3a3a","strokeWidth":0.9},
"encoding":{"x":{"field":"x1","type":"quantitative","axis":null},"y":{"field":"y1","type":"quantitative","axis":null},"x2":{"field":"x2"},"y2":{"field":"y2"}}},
{"data":{"name":"zlabels"},"transform":[{"calculate":"392-270*1.2","as":"x"},{"calculate":"557-125*1.2-13*datum.z","as":"y"}],"mark":{"type":"text","align":"right","baseline":"middle","dx":-19,"dy":-4,"font":"Liberation Sans","fontSize":15,"fill":"#404040"},"encoding":{"x":{"field":"x","type":"quantitative","axis":null},"y":{"field":"y","type":"quantitative","axis":null},"text":{"field":"t"}}},
{"data":{"name":"vlabels"},"transform":[{"calculate":"392-270*(datum.v+0.1)","as":"x"},{"calculate":"622-125*(datum.v+0.1)","as":"y"}],"mark":{"type":"text","align":"right","baseline":"middle","dx":-23,"dy":21,"font":"Liberation Sans","fontSize":15,"fill":"#404040"},"encoding":{"x":{"field":"x","type":"quantitative","axis":null},"y":{"field":"y","type":"quantitative","axis":null},"text":{"field":"t"}}},
{"data":{"name":"ulabels"},"transform":[{"calculate":"392+352*(datum.u+0.1)","as":"x"},{"calculate":"622-95.5*(datum.u+0.1)","as":"y"}],"mark":{"type":"text","align":"left","baseline":"middle","dx":16,"dy":25,"font":"Liberation Sans","fontSize":15,"fill":"#404040"},"encoding":{"x":{"field":"x","type":"quantitative","axis":null},"y":{"field":"y","type":"quantitative","axis":null},"text":{"field":"t"}}},
{"data":{"values":[{"z":23.1,"t":"× 10"}]},"transform":[{"calculate":"68","as":"x"},{"calculate":"407-13*datum.z","as":"y"}],"mark":{"type":"text","align":"left","baseline":"middle","dx":-58,"font":"Liberation Sans","fontSize":16,"fill":"#404040"},"encoding":{"x":{"field":"x","type":"quantitative","axis":null},"y":{"field":"y","type":"quantitative","axis":null},"text":{"field":"t"}}},
{"data":{"values":[{"z":23.8,"t":"-6"}]},"transform":[{"calculate":"68","as":"x"},{"calculate":"407-13*datum.z","as":"y"}],"mark":{"type":"text","align":"left","baseline":"middle","dx":-18,"font":"Liberation Sans","fontSize":12,"fill":"#404040"},"encoding":{"x":{"field":"x","type":"quantitative","axis":null},"y":{"field":"y","type":"quantitative","axis":null},"text":{"field":"t"}}},
{"data":{"name":"plane"},"transform":[{"calculate":"392+352*(datum.u+0.1)-270*(datum.v+0.1)","as":"x"},{"calculate":"557-95.5*(datum.u+0.1)-125*(datum.v+0.1)","as":"y"}],"mark":{"type":"line","fill":"#3c42e4","stroke":"#000000","strokeWidth":0.6},"encoding":{"x":{"field":"x","type":"quantitative","axis":null},"y":{"field":"y","type":"quantitative","axis":null},"order":{"field":"n","type":"quantitative"}}},
{"data":{"name":"mesh"},"transform":[{"calculate":"[datum.d,-0.1,datum.d,1.1]","as":"a"},{"calculate":"[-0.1,datum.d,1.1,datum.d]","as":"b"},{"calculate":"[datum.a,datum.b]","as":"p"},{"flatten":["p"]},{"calculate":"392+352*(datum.p[0]+0.1)-270*(datum.p[1]+0.1)","as":"x1"},{"calculate":"557-95.5*(datum.p[0]+0.1)-125*(datum.p[1]+0.1)","as":"y1"},{"calculate":"392+352*(datum.p[2]+0.1)-270*(datum.p[3]+0.1)","as":"x2"},{"calculate":"557-95.5*(datum.p[2]+0.1)-125*(datum.p[3]+0.1)","as":"y2"}],"mark":{"type":"rule","stroke":"#06061e","strokeWidth":0.9},"encoding":{"x":{"field":"x1","type":"quantitative","axis":null},"y":{"field":"y1","type":"quantitative","axis":null},"x2":{"field":"x2"},"y2":{"field":"y2"}}},
{"data":{"name":"stripes"},"transform":[{"calculate":"datum.s==0?-0.1:datum.s==1?1.1:datum.t","as":"ua"},{"calculate":"datum.s==0?0:datum.s==1?1:datum.s==2?datum.t+0.1:datum.t-0.1","as":"ub"},{"calculate":"datum.s==2?-0.1:datum.s==3?1.1:datum.t","as":"va"},{"calculate":"datum.s==2?0.01:datum.s==3?0.99:datum.s==0?datum.t+0.11:datum.t-0.11","as":"vb"},{"calculate":"392+352*(datum.ua+0.1)-270*(datum.va+0.1)","as":"x1"},{"calculate":"557-95.5*(datum.ua+0.1)-125*(datum.va+0.1)","as":"y1"},{"calculate":"392+352*(datum.ub+0.1)-270*(datum.vb+0.1)","as":"x2"},{"calculate":"557-95.5*(datum.ub+0.1)-125*(datum.vb+0.1)","as":"y2"}],"mark":{"type":"rule","stroke":"#000000","strokeWidth":5.5},"encoding":{"x":{"field":"x1","type":"quantitative","axis":null},"y":{"field":"y1","type":"quantitative","axis":null},"x2":{"field":"x2"},"y2":{"field":"y2"}}},
{"data":{"name":"grid"},"transform":[
{"calculate":"floor(datum.k/100)","as":"i"},{"calculate":"datum.k%100","as":"j"},{"calculate":"datum.k+100","as":"k10"},{"calculate":"datum.k+1","as":"k01"},{"calculate":"datum.k+101","as":"k11"},
{"lookup":"k10","from":{"data":{"name":"grid"},"key":"k","fields":["z"]},"as":["z10"],"default":0},
{"lookup":"k01","from":{"data":{"name":"grid"},"key":"k","fields":["z"]},"as":["z01"],"default":0},
{"lookup":"k11","from":{"data":{"name":"grid"},"key":"k","fields":["z"]},"as":["z11"],"default":0},
{"calculate":"(datum.z+datum.z10+datum.z01+datum.z11)/4","as":"zc"},
{"calculate":"392+14.08*datum.i-10.8*datum.j","as":"x0"},{"calculate":"557-3.82*datum.i-5*datum.j","as":"y0"},
{"calculate":"datum.y0-13*datum.z","as":"ya"},{"calculate":"datum.y0-3.82-13*datum.z10","as":"yb"},{"calculate":"datum.y0-8.82-13*datum.z11","as":"yc"},{"calculate":"datum.y0-5-13*datum.z01","as":"yd"},
{"calculate":"[datum.x0,datum.x0+7.04,datum.x0-3.76,datum.x0+7.04,datum.x0+14.08,datum.x0+8.68,datum.x0-5.4,datum.x0+8.68,datum.x0+3.28,datum.x0-10.8,datum.x0]","as":"px"},
{"calculate":"[datum.ya,(datum.ya+datum.yb)/2,(datum.yd+datum.yc)/2,(datum.ya+datum.yb)/2,datum.yb,(datum.yb+datum.yc)/2,(datum.ya+datum.yd)/2,(datum.yb+datum.yc)/2,datum.yc,datum.yd,datum.ya]","as":"py"},
{"calculate":"[0,1,2,3,4,5,6,7,8,9,10]","as":"n"},{"flatten":["px","py","n"]}],
"mark":{"type":"line","stroke":"#000000","strokeWidth":1,"strokeJoin":"round"},
"encoding":{"x":{"field":"px","type":"quantitative","axis":null},"y":{"field":"py","type":"quantitative","axis":null},"order":{"field":"n","type":"quantitative"},"detail":{"field":"k"},
"fill":{"field":"zc","type":"quantitative","legend":null,"scale":{"domain":[-2.9,-0.24,2.8,5.9,8.2,10.4,13.1,15.7,18.4],"range":["#3e26a8","#3f40e4","#2678e4","#0a9cc8","#2ab496","#80c05c","#cdb92f","#fcbc3b","#f9fb15"]}}}}
],
"resolve":{"scale":{"x":"shared","y":"shared"}}}
